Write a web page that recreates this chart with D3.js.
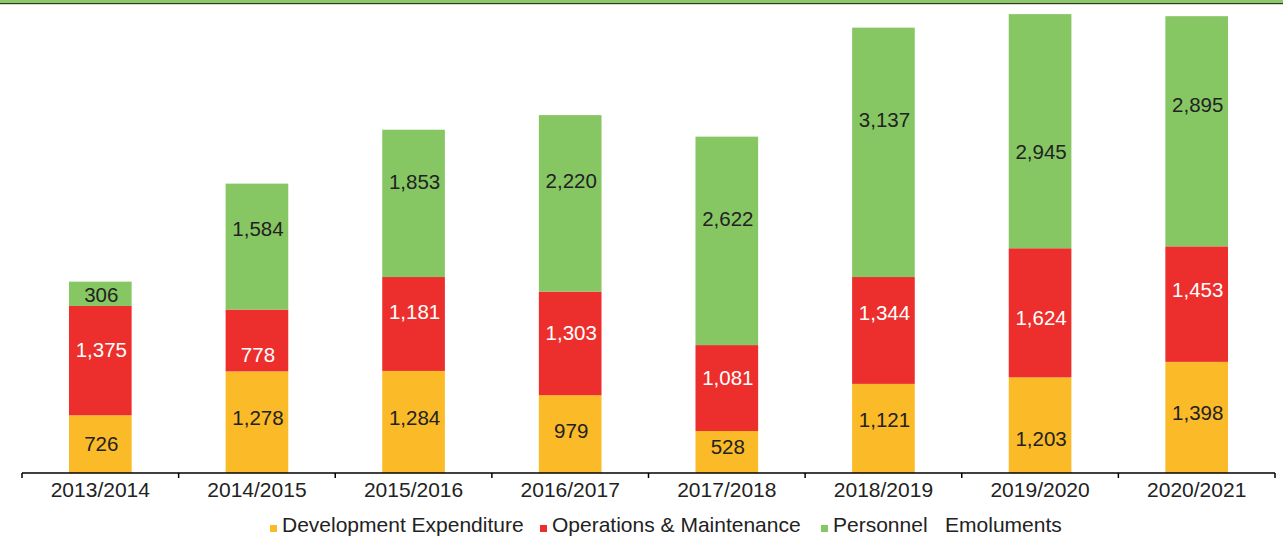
<!DOCTYPE html>
<html>

<head>
    <meta charset="utf-8">
    <title>Expenditure by Year</title>
    <script src="https://cdn.jsdelivr.net/npm/d3@7"></script>
    <style>
        body { margin: 0; background: #fff; }
        text { font-family: "Liberation Sans", Arial, sans-serif; }
    </style>
</head>

<body>
    <div id="chart"></div>
    <script>
        // data
        var years = ["2013/2014", "2014/2015", "2015/2016", "2016/2017", "2017/2018", "2018/2019", "2019/2020", "2020/2021"];
        var development = [726, 1278, 1284, 979, 528, 1121, 1203, 1398];
        var operations = [1375, 778, 1181, 1303, 1081, 1344, 1624, 1453];
        var personnel = [306, 1584, 1853, 2220, 2622, 3137, 2945, 2895];
        var seriesNames = ["Development Expenditure", "Operations & Maintenance", "Personnel   Emoluments"];
        var seriesKeys = ["dev", "ops", "per"];
        var colors = ["#FBBA28", "#EC2F2D", "#87C763"];
        var labelColors = ["#222", "#fff", "#222"];

        // labels were nudged by hand in the original, px shift from segment middle
        var labelShift = [
            [-1, -5, -4, -3, -5, -9, 13, -5],
            [-11, 14, -12, -11, -10, -18, 5, -14],
            [1, -18, -22, -23, -22, -33, 20, -27]
        ];

        var W = 1283, H = 537;
        var margin = { left: 22, right: 8, base: 473 };

        var svg = d3.select("#chart")
            .append("svg")
            .attr("width", W)
            .attr("height", H);

        // green band at the top
        svg.append("rect").attr("x", 0).attr("y", 0).attr("width", W).attr("height", 3).style("fill", "#8CC86B");
        svg.append("rect").attr("x", 0).attr("y", 3).attr("width", W).attr("height", 1.2).style("fill", "#2c3a22");

        var rows = years.map(function (y, i) {
            return { year: y, dev: development[i], ops: operations[i], per: personnel[i] };
        });

        var stack = d3.stack().keys(seriesKeys);
        var layers = stack(rows);

        var x = d3.scaleBand()
            .domain(years)
            .range([margin.left, W - margin.right])
            .paddingInner(0)
            .paddingOuter(0);

        var y = d3.scaleLinear()
            .domain([0, 6000])
            .range([margin.base, margin.base - 6000 * 0.0795]);

        var bw = x.bandwidth() * 0.40;

        var groups = svg.selectAll("g.layer")
            .data(layers)
            .enter()
            .append("g")
            .attr("class", "layer")
            .style("fill", function (d, i) { return colors[i]; });

        groups.selectAll("rect")
            .data(function (d) { return d; })
            .enter()
            .append("rect")
            .attr("x", function (d) { return x(d.data.year) + (x.bandwidth() - bw) / 2; })
            .attr("y", function (d) { return y(d[1]); })
            .attr("width", bw)
            .attr("height", function (d) { return y(d[0]) - y(d[1]); });

        // value labels
        layers.forEach(function (layer, li) {
            svg.append("g")
                .selectAll("text")
                .data(layer)
                .enter()
                .append("text")
                .attr("x", function (d) { return x(d.data.year) + x.bandwidth() / 2 + 1; })
                .attr("y", function (d, i) { return (y(d[0]) + y(d[1])) / 2 + labelShift[li][i]; })
                .attr("dy", "0.36em")
                .attr("text-anchor", "middle")
                .style("font-size", "20.5px")
                .style("fill", labelColors[li])
                .text(function (d) { return d3.format(",")(d[1] - d[0]); });
        });

        // x axis with ticks between categories
        var axis = svg.append("g");
        axis.append("line")
            .attr("x1", margin.left).attr("x2", W - margin.right)
            .attr("y1", margin.base).attr("y2", margin.base)
            .style("stroke", "#000").style("stroke-width", 1.5);

        var bounds = years.map(function (d) { return x(d); }).concat([W - margin.right]);
        axis.selectAll("line.tick")
            .data(bounds)
            .enter()
            .append("line")
            .attr("class", "tick")
            .attr("x1", function (d) { return d; }).attr("x2", function (d) { return d; })
            .attr("y1", margin.base).attr("y2", margin.base + 5)
            .style("stroke", "#000").style("stroke-width", 1.5);

        axis.selectAll("text")
            .data(years)
            .enter()
            .append("text")
            .attr("x", function (d) { return x(d) + x.bandwidth() / 2; })
            .attr("y", 497)
            .attr("text-anchor", "middle")
            .style("font-size", "21px")
            .style("fill", "#222")
            .text(function (d) { return d; });

        // handmade legend
        var legendX = [270, 540, 821];
        seriesNames.forEach(function (name, i) {
            svg.append("rect")
                .attr("x", legendX[i]).attr("y", 525)
                .attr("width", 7).attr("height", 7)
                .style("fill", colors[i]);
            svg.append("text")
                .attr("x", legendX[i] + 12).attr("y", 532)
                .style("font-size", "21px")
                .style("fill", "#222")
                .style("white-space", "pre")
                .attr("xml:space", "preserve")
                .text(name);
        });
    </script>
</body>

</html>
